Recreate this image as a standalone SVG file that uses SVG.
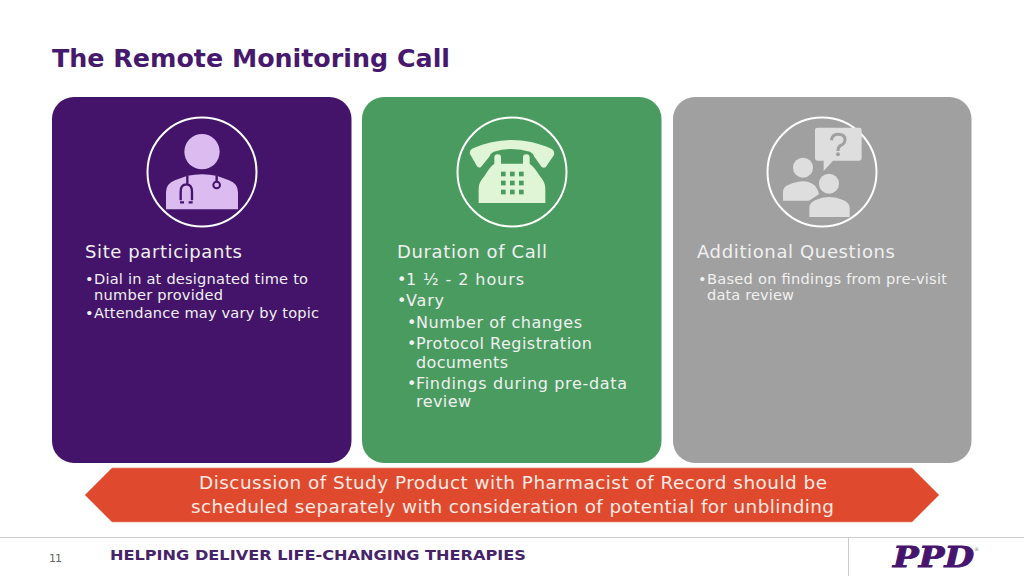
<svg xmlns="http://www.w3.org/2000/svg" width="1024" height="576" viewBox="0 0 1024 576">
<style>
text{font-family:"DejaVu Sans",Verdana,sans-serif;fill:#fff}
.h{font-size:18px;fill:#f0f0f0}
.b{font-size:14.6px;fill:#f0f0f0}
.m{font-size:16px;fill:#f0f0f0}
.ring{fill:none;stroke:#fff;stroke-width:2}
.banner{font-size:18.4px;fill:#fbe9e4}
</style>
<rect width="1024" height="576" fill="#fff"/>
<text x="52" y="66.500" font-size="25" font-weight="700" style="fill:#46186e" textLength="398" lengthAdjust="spacingAndGlyphs">The Remote Monitoring Call</text>

<g id="card-site">
<rect x="52" y="97" width="299.500" height="366" rx="22" fill="#43146a"/>
<circle class="ring" cx="202" cy="172" r="54.500"/>
<g transform="translate(130 105) scale(.3333)">
<circle cx="216" cy="140" r="53" fill="#dcbcf0"/>
<path d="M108 313V262Q108 236 135 226L170 213Q216 203 262 213L297 226Q324 236 324 262V313Z" fill="#dcbcf0"/>
<path d="M172 213V236M152 286V260Q152 238 169 238Q186 238 186 260V286M150 292H162M176 292H188M260 212V230" fill="none" stroke="#43146a" stroke-width="7"/>
<circle cx="260" cy="240" r="10" fill="none" stroke="#43146a" stroke-width="6"/>
</g>
<text class="h" x="85" y="258" textLength="157">Site participants</text>
<text class="b" x="85" y="283.500">•</text><text class="b" x="94" y="283.500" textLength="214">Dial in at designated time to</text>
<text class="b" x="94" y="299.500" textLength="129">number provided</text>
<text class="b" x="85" y="318">•</text><text class="b" x="94" y="318" textLength="225">Attendance may vary by topic</text>
</g>

<g id="card-duration">
<rect x="362" y="97" width="299.500" height="366" rx="22" fill="#4a9b60"/>
<circle class="ring" cx="512" cy="172" r="54.500"/>
<g transform="translate(445 105) scale(.3333)" fill="#dff5d6">
<path d="M75 147Q72 136 84 130C160 97 240 97 316 130Q330 136 327 150L302 187Q296 190 290 186L267 154Q265 145 255 140Q200 124 146 140Q136 145 134 154L108 186Q102 190 96 184Z"/>
<path d="M148 176V158Q148 148 158 148Q168 148 168 158V176H234V158Q234 148 244 148Q254 148 254 158V176Q268 186 285 214Q301 232 301 250V294H101V250Q101 232 118 214Q134 186 148 176Z"/>
<g fill="#4a9b60"><rect x="168" y="200" width="14" height="14"/><rect x="195" y="200" width="14" height="14"/><rect x="222" y="200" width="14" height="14"/><rect x="168" y="227" width="14" height="14"/><rect x="195" y="227" width="14" height="14"/><rect x="222" y="227" width="14" height="14"/><rect x="168" y="254" width="14" height="14"/><rect x="195" y="254" width="14" height="14"/><rect x="222" y="254" width="14" height="14"/></g>
</g>
<text class="h" x="397" y="258" textLength="150">Duration of Call</text>
<text class="m" x="397" y="285">•</text><text class="m" x="406" y="285" textLength="118">1 ½ - 2 hours</text>
<text class="m" x="397" y="306">•</text><text class="m" x="406" y="306" textLength="38">Vary</text>
<text class="m" x="407" y="328">•</text><text class="m" x="416" y="328" textLength="166">Number of changes</text>
<text class="m" x="407" y="349">•</text><text class="m" x="416" y="349" textLength="176">Protocol Registration</text>
<text class="m" x="416" y="368" textLength="92">documents</text>
<text class="m" x="407" y="389">•</text><text class="m" x="416" y="389" textLength="211">Findings during pre-data</text>
<text class="m" x="416" y="407" textLength="55">review</text>
</g>

<g id="card-questions">
<rect x="673" y="97" width="298.500" height="366" rx="22" fill="#a0a0a0"/>
<circle class="ring" cx="822" cy="172" r="54.500"/>
<g transform="translate(755 105) scale(.3333)" fill="#dedede">
<path d="M187 68H313Q320 68 320 75V160Q320 167 313 167H234L206 198V167H187Q180 167 180 160V75Q180 68 187 68Z"/>
<circle cx="144" cy="188" r="30"/>
<path d="M84 287V262Q84 245 100 240Q144 220 172 236Q186 242 192 268L162 287Z"/>
<circle cx="222" cy="236" r="30"/>
<path d="M163 336V308Q163 294 180 286Q222 266 266 286Q284 294 284 310V336Z"/>
<path d="M229 106Q232 88 249 88Q270 88 270 104Q270 116 256 122Q249 126 249 138" fill="none" stroke="#a0a0a0" stroke-width="9"/>
<circle cx="249" cy="148" r="6" fill="#a0a0a0"/>
</g>
<text class="h" x="697" y="258" textLength="198">Additional Questions</text>
<text class="b" x="698" y="283.500">•</text><text class="b" x="707" y="283.500" textLength="240">Based on findings from pre-visit</text>
<text class="b" x="707" y="299.500" textLength="87">data review</text>
</g>

<g id="banner">
<polygon points="85,495 112,468 912,468 939,495 912,522 112,522" fill="#df4a2e" stroke="#ee8a72" stroke-width=".7"/>
<text class="banner" x="199" y="488.500" textLength="628">Discussion of Study Product with Pharmacist of Record should be</text>
<text class="banner" x="191" y="512.500" textLength="643">scheduled separately with consideration of potential for unblinding</text>
</g>

<g id="footer">
<path d="M0 537.500H1024M848.500 537.500V576" stroke="#ccc" fill="none"/>
<text x="49" y="562" font-size="11" style="fill:#666" textLength="13">11</text>
<text x="110" y="560" font-size="14.500" font-weight="700" style="fill:#46246a" textLength="416" lengthAdjust="spacingAndGlyphs">HELPING DELIVER LIFE-CHANGING THERAPIES</text>
<text x="893" y="567" font-size="28" font-weight="700" font-style="italic" style="font-family:'DejaVu Serif',serif;fill:#46146e;stroke:#46146e;stroke-width:.9" textLength="81" lengthAdjust="spacingAndGlyphs">PPD</text>
<text x="974" y="551" font-size="5" style="fill:#888">®</text>
</g>
</svg>
